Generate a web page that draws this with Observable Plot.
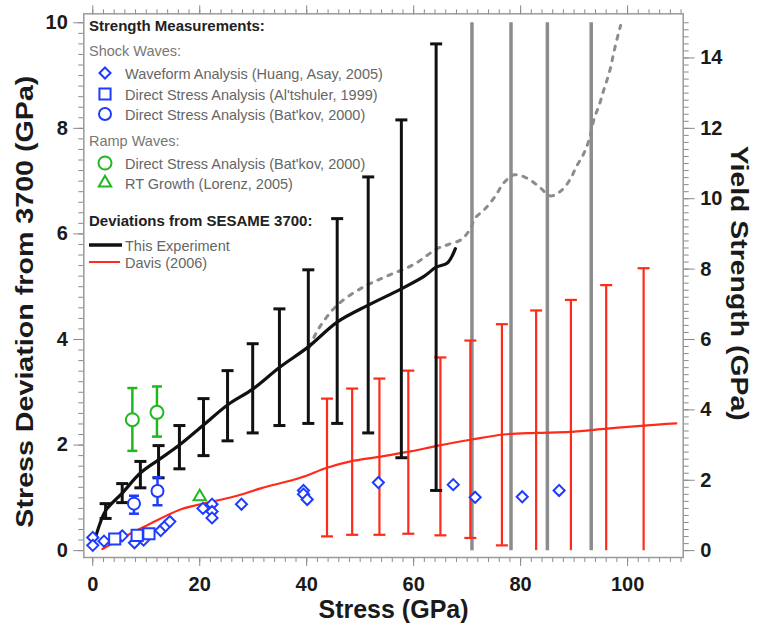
<!DOCTYPE html>
<html><head><meta charset="utf-8">
<script src="https://cdn.jsdelivr.net/npm/d3@7"></script>
<script src="https://cdn.jsdelivr.net/npm/@observablehq/plot@0.6"></script>
<style>
body{margin:0;background:#fff;}
#chart{position:relative;width:757px;height:634px;}
</style></head><body><div id="chart"></div>
<script>
// ---- Data ----
// This Experiment: deviation curve
const expStress = [0.5,1.3,2.4,5.5,8.9,12.3,16.2,20.7,25.2,29.9,34.9,40.3,45.7,51.5,57.7,62.0,64.2,66.3,67.8];
const expDev    = [0.25,0.50,0.76,1.09,1.47,1.72,2.00,2.38,2.76,3.06,3.47,3.86,4.33,4.65,4.96,5.20,5.37,5.45,5.72];
// This Experiment: error bars
const expBarStress = [2.4,5.5,8.9,12.3,16.2,20.7,25.2,29.9,34.9,40.3,45.7,51.5,57.7,64.2];
const expBarLow    = [0.61,0.91,1.19,1.38,1.55,1.80,2.08,2.23,2.37,2.41,2.41,2.23,1.76,1.14];
const expBarHigh   = [0.89,1.27,1.69,1.99,2.37,2.88,3.41,3.92,4.58,5.32,6.29,7.08,8.16,9.60];
// Gray dashed extension
const dashStress = [40.5,42.2,45.7,50.7,55.0,60.0,64.4,66.5,69.0,70.6,71.5,73.4,75.3,76.8,78.8,81.1,83.4,85.6,87.6,89.3,90.4,91.7,92.7,93.8,94.7,95.4,96.1,96.8,97.3,97.8,98.4,98.7];
const dashDev    = [3.85,4.20,4.65,5.00,5.20,5.42,5.72,5.80,5.90,6.10,6.30,6.48,6.72,6.96,7.12,7.06,6.90,6.72,6.82,7.04,7.27,7.50,7.75,8.20,8.44,8.68,8.90,9.14,9.38,9.60,9.84,9.95];
// Gray vertical lines
const grayStress = [70.9,78.2,85.0,93.2];
const grayLow = [0,0,0,0];
const grayHigh = [10,10,10,10];
// Davis (2006)
const davisStress = [1.8,5.5,9.8,16.4,22.0,27.0,31.4,38.8,43.8,48.2,53.8,59.4,64.6,70.6,76.8,82.9,89.3,96.1,103.1,109.1];
const davisDev    = [0.03,0.24,0.46,0.78,0.92,1.04,1.18,1.38,1.57,1.69,1.78,1.88,1.99,2.10,2.20,2.23,2.25,2.31,2.37,2.41];
const davisBarStress = [43.8,48.5,53.6,59.0,65.0,70.6,76.5,82.9,89.4,96.0,103.0];
const davisBarLow    = [0.27,0.30,0.30,0.32,0.29,0.24,0.10,0,0,0,0];
const davisBarHigh   = [2.88,3.07,3.26,3.41,3.66,3.98,4.29,4.55,4.75,5.03,5.35];
const davisLowCap    = [true,true,true,true,true,true,true,false,false,false,false];
// Waveform analysis (Huang, Asay, 2005)
const waveStress = [0,0,2.1,5.5,7.8,9.5,12.7,13.6,14.4,20.6,22.3,22.3,22.3,27.8,39.4,39.4,40.1,53.4,67.4,71.5,80.3,87.2];
const waveDev    = [0.25,0.10,0.18,0.28,0.15,0.20,0.38,0.47,0.55,0.80,0.88,0.74,0.62,0.88,1.14,1.07,0.97,1.29,1.25,1.01,1.02,1.14];
// Direct stress analysis (Al'tshuler, 1999)
const altStress = [4.1,8.3,10.5];
const altDev    = [0.22,0.29,0.32];
// Direct stress analysis (Bat'kov, 2000) shock
const batShockStress = [7.7,12.1];
const batShockDev    = [0.89,1.13];
const batShockLow    = [0.70,0.86];
const batShockHigh   = [1.04,1.39];
// Direct stress analysis (Bat'kov, 2000) ramp
const batRampStress = [7.4,12.0];
const batRampDev    = [2.48,2.62];
const batRampLow    = [1.89,2.16];
const batRampHigh   = [3.08,3.11];
// RT growth (Lorenz, 2005)
const rtStress = [20.0];
const rtDev    = [1.02];

// Axes ticks
const xMajor = [0,20,40,60,80,100];
const xMinor = d3.range(0,111,2);
const yMajor = [0,2,4,6,8,10];
const yMinor = d3.range(0,10.01,0.2);
const yieldMajor = [0,2,4,6,8,10,12,14];
const yieldMinor = d3.range(0,15.01,0.2);
const yieldPerDev = 1.5;

// Labels
const xLabel = "Stress (GPa)";
const yLabel = "Stress Deviation from 3700 (GPa)";
const y2Label = "Yield Strength (GPa)";
const legendTitles = ["Strength Measurements:", "Shock Waves:", "Ramp Waves:", "Deviations from SESAME 3700:"];
const legendEntries = ["Waveform Analysis (Huang, Asay, 2005)", "Direct Stress Analysis (Al'tshuler, 1999)", "Direct Stress Analysis (Bat'kov, 2000)", "Direct Stress Analysis (Bat'kov, 2000)", "RT Growth (Lorenz, 2005)"];
const legendLines = ["This Experiment", "Davis (2006)"];

// colors
const BLUE = "#1e3cff", GREEN = "#1fb81f", RED = "#ff2a1a", GRAY = "#8c8c8c", BLACK = "#111";

const zip = (a,b) => a.map((v,i)=>({x:v,y:b[i]}));
const bars = (xs,lo,hi) => xs.map((v,i)=>({x:v,lo:lo[i],hi:hi[i]}));

const capSymbol = {draw(ctx,size){const w=Math.sqrt(size/Math.PI); ctx.moveTo(-w,0); ctx.lineTo(w,0);}};

const expBars = bars(expBarStress, expBarLow, expBarHigh);
const davisBars = bars(davisBarStress, davisBarLow, davisBarHigh).map((d,i)=>({...d,cap:davisLowCap[i]}));
const batShockBars = bars(batShockStress, batShockLow, batShockHigh);
const batRampBars = bars(batRampStress, batRampLow, batRampHigh);
const grayLines = bars(grayStress, grayLow, grayHigh);

const tickColor = "#8a8a8a";
const txtColor = "#1a1a1a";

const plot = Plot.plot({
  width: 757, height: 634,
  marginLeft: 83.3, marginRight: 74.3, marginTop: 13.3, marginBottom: 77,
  style: {fontFamily: "'Liberation Sans', Arial, sans-serif", background: "white"},
  x: {domain: [-1.68, 110.4]},
  y: {domain: [-0.13, 10.17]},
  marks: [
    // axes: bottom
    Plot.axisX(xMinor, {anchor: "bottom", tickSize: 5, stroke: tickColor, fill: "none", label: null}),
    Plot.axisX(xMajor, {anchor: "bottom", tickSize: 9, tickPadding: 10, stroke: tickColor, fill: txtColor, fontSize: 20, fontWeight: "bold", label: null, tickFormat: d => String(d)}),
    // top
    Plot.axisX(xMinor, {anchor: "top", tickSize: 5, stroke: tickColor, fill: "none", label: null}),
    Plot.axisX(xMajor, {anchor: "top", tickSize: 9, stroke: tickColor, fill: "none", label: null}),
    // left
    Plot.axisY(yMinor, {anchor: "left", tickSize: 5, stroke: tickColor, fill: "none", label: null}),
    Plot.axisY(yMajor, {anchor: "left", tickSize: 10, tickPadding: 6, stroke: tickColor, fill: txtColor, fontSize: 20, fontWeight: "bold", label: null, tickFormat: d => String(d)}),
    // right (yield strength = 1.5 x deviation)
    Plot.axisY(yieldMinor.map(v=>v/yieldPerDev), {anchor: "right", tickSize: 5, stroke: tickColor, fill: "none", label: null}),
    Plot.axisY(yieldMajor.map(v=>v/yieldPerDev), {anchor: "right", tickSize: 11, tickPadding: 6, stroke: tickColor, fill: txtColor, fontSize: 20, fontWeight: "bold", label: null, tickFormat: d => String(Math.round(d*yieldPerDev))}),
    Plot.frame({stroke: "#9a9a9a", strokeWidth: 1.5}),

    // gray vertical lines
    Plot.ruleX(grayLines, {x: "x", y1: "lo", y2: "hi", stroke: GRAY, strokeWidth: 3.5}),
    // gray dashed
    Plot.line(zip(dashStress, dashDev), {x: "x", y: "y", stroke: GRAY, strokeWidth: 3, strokeDasharray: "4,7", curve: "catmull-rom"}),
    // Davis bars
    Plot.ruleX(davisBars, {x: "x", y1: "lo", y2: "hi", stroke: RED, strokeWidth: 2.2}),
    Plot.dot(davisBars, {x: "x", y: "hi", symbol: capSymbol, r: 6, stroke: RED, strokeWidth: 2.2, fill: "none"}),
    Plot.dot(davisBars.filter(d=>d.cap), {x: "x", y: "lo", symbol: capSymbol, r: 6, stroke: RED, strokeWidth: 2.2, fill: "none"}),
    Plot.line(zip(davisStress, davisDev), {x: "x", y: "y", stroke: RED, strokeWidth: 2.2, curve: "catmull-rom"}),
    // experiment bars
    Plot.ruleX(expBars, {x: "x", y1: "lo", y2: "hi", stroke: BLACK, strokeWidth: 3}),
    Plot.dot(expBars, {x: "x", y: "hi", symbol: capSymbol, r: 6, stroke: BLACK, strokeWidth: 3, fill: "none"}),
    Plot.dot(expBars, {x: "x", y: "lo", symbol: capSymbol, r: 6, stroke: BLACK, strokeWidth: 3, fill: "none"}),
    Plot.line(zip(expStress, expDev), {x: "x", y: "y", stroke: BLACK, strokeWidth: 3.2, curve: "catmull-rom"}),

    // Bat'kov shock bars
    Plot.ruleX(batShockBars, {x: "x", y1: "lo", y2: "hi", stroke: BLUE, strokeWidth: 2.5}),
    Plot.dot(batShockBars, {x: "x", y: "hi", symbol: capSymbol, r: 5, stroke: BLUE, strokeWidth: 2.5, fill: "none"}),
    Plot.dot(batShockBars, {x: "x", y: "lo", symbol: capSymbol, r: 5, stroke: BLUE, strokeWidth: 2.5, fill: "none"}),
    // Bat'kov ramp bars
    Plot.ruleX(batRampBars, {x: "x", y1: "lo", y2: "hi", stroke: GREEN, strokeWidth: 2.5}),
    Plot.dot(batRampBars, {x: "x", y: "hi", symbol: capSymbol, r: 5, stroke: GREEN, strokeWidth: 2.5, fill: "none"}),
    Plot.dot(batRampBars, {x: "x", y: "lo", symbol: capSymbol, r: 5, stroke: GREEN, strokeWidth: 2.5, fill: "none"}),

    // markers
    Plot.dot(zip(waveStress, waveDev), {x: "x", y: "y", symbol: "diamond2", r: 5, stroke: BLUE, strokeWidth: 2, fill: "white"}),
    Plot.dot(zip(altStress, altDev), {x: "x", y: "y", symbol: "square", r: 6.3, stroke: BLUE, strokeWidth: 2, fill: "white"}),
    Plot.dot(zip(batShockStress, batShockDev), {x: "x", y: "y", symbol: "circle", r: 6, stroke: BLUE, strokeWidth: 2, fill: "white"}),
    Plot.dot(zip(batRampStress, batRampDev), {x: "x", y: "y", symbol: "circle", r: 6.5, stroke: GREEN, strokeWidth: 2, fill: "white"}),
    Plot.dot(zip(rtStress, rtDev), {x: "x", y: "y", symbol: "triangle", r: 4.6, stroke: GREEN, strokeWidth: 2, fill: "white"}),

    // axis labels
    Plot.text([xLabel], {frameAnchor: "bottom", dx: 10, dy: 60, fontSize: 25, fontWeight: "bold", fill: txtColor}),
    Plot.text([yLabel], {frameAnchor: "left", rotate: -90, textAnchor: "start", dx: -58, dy: 242, fontSize: 24, fontWeight: "bold", fill: txtColor}),
    Plot.text([y2Label], {frameAnchor: "right", rotate: 90, textAnchor: "start", dx: 55, dy: -140, fontSize: 24, fontWeight: "bold", fill: txtColor})
  ]
});

// stretch the vertical axis titles to the reference's length
const stretch = (label, len) => {
  plot.querySelectorAll("text").forEach(t => {
    if (t.textContent === label) { t.setAttribute("textLength", len); t.setAttribute("lengthAdjust", "spacingAndGlyphs"); }
  });
};
stretch(yLabel, 452);
stretch(y2Label, 275);

const chart = document.getElementById("chart");
chart.appendChild(plot);

// ---- Legend overlay ----
const leg = d3.select(chart).append("svg")
  .attr("width", 757).attr("height", 634)
  .style("position", "absolute").style("left", "0px").style("top", "0px")
  .style("pointer-events", "none")
  .style("font-family", "'Liberation Sans', Arial, sans-serif");

const titleRows = [
  {t: legendTitles[0], y: 31, bold: true},
  {t: legendTitles[1], y: 56, bold: false},
  {t: legendTitles[2], y: 146, bold: false},
  {t: legendTitles[3], y: 226, bold: true}
];
titleRows.forEach(r => {
  leg.append("text").attr("x", 89).attr("y", r.y).text(r.t)
    .attr("font-size", r.bold ? 15 : 14.5)
    .attr("font-weight", r.bold ? "bold" : "normal")
    .attr("fill", r.bold ? "#222" : "#777");
});
const symRows = [
  {sym: d3.symbolDiamond2, size: 25*Math.PI, color: BLUE, y: 73},
  {sym: d3.symbolSquare, size: 6.3*6.3*Math.PI, color: BLUE, y: 94},
  {sym: d3.symbolCircle, size: 36*Math.PI, color: BLUE, y: 114},
  {sym: d3.symbolCircle, size: 6.5*6.5*Math.PI, color: GREEN, y: 163},
  {sym: d3.symbolTriangle, size: 4.6*4.6*Math.PI, color: GREEN, y: 183}
];
symRows.forEach((r, i) => {
  leg.append("path").attr("d", d3.symbol(r.sym, r.size)())
    .attr("transform", `translate(105,${r.y})`)
    .attr("fill", "white").attr("stroke", r.color).attr("stroke-width", 2);
  leg.append("text").attr("x", 125).attr("y", r.y + 5.5).text(legendEntries[i])
    .attr("font-size", 14.5).attr("fill", "#666");
});
const lineRows = [
  {color: BLACK, w: 3.5, y: 245, x2: 122},
  {color: RED, w: 2, y: 262, x2: 120}
];
lineRows.forEach((r, i) => {
  leg.append("line").attr("x1", 89).attr("x2", r.x2).attr("y1", r.y).attr("y2", r.y)
    .attr("stroke", r.color).attr("stroke-width", r.w);
  leg.append("text").attr("x", 125).attr("y", r.y + 6).text(legendLines[i])
    .attr("font-size", 14.5).attr("fill", "#666");
});
</script>
</body></html>
